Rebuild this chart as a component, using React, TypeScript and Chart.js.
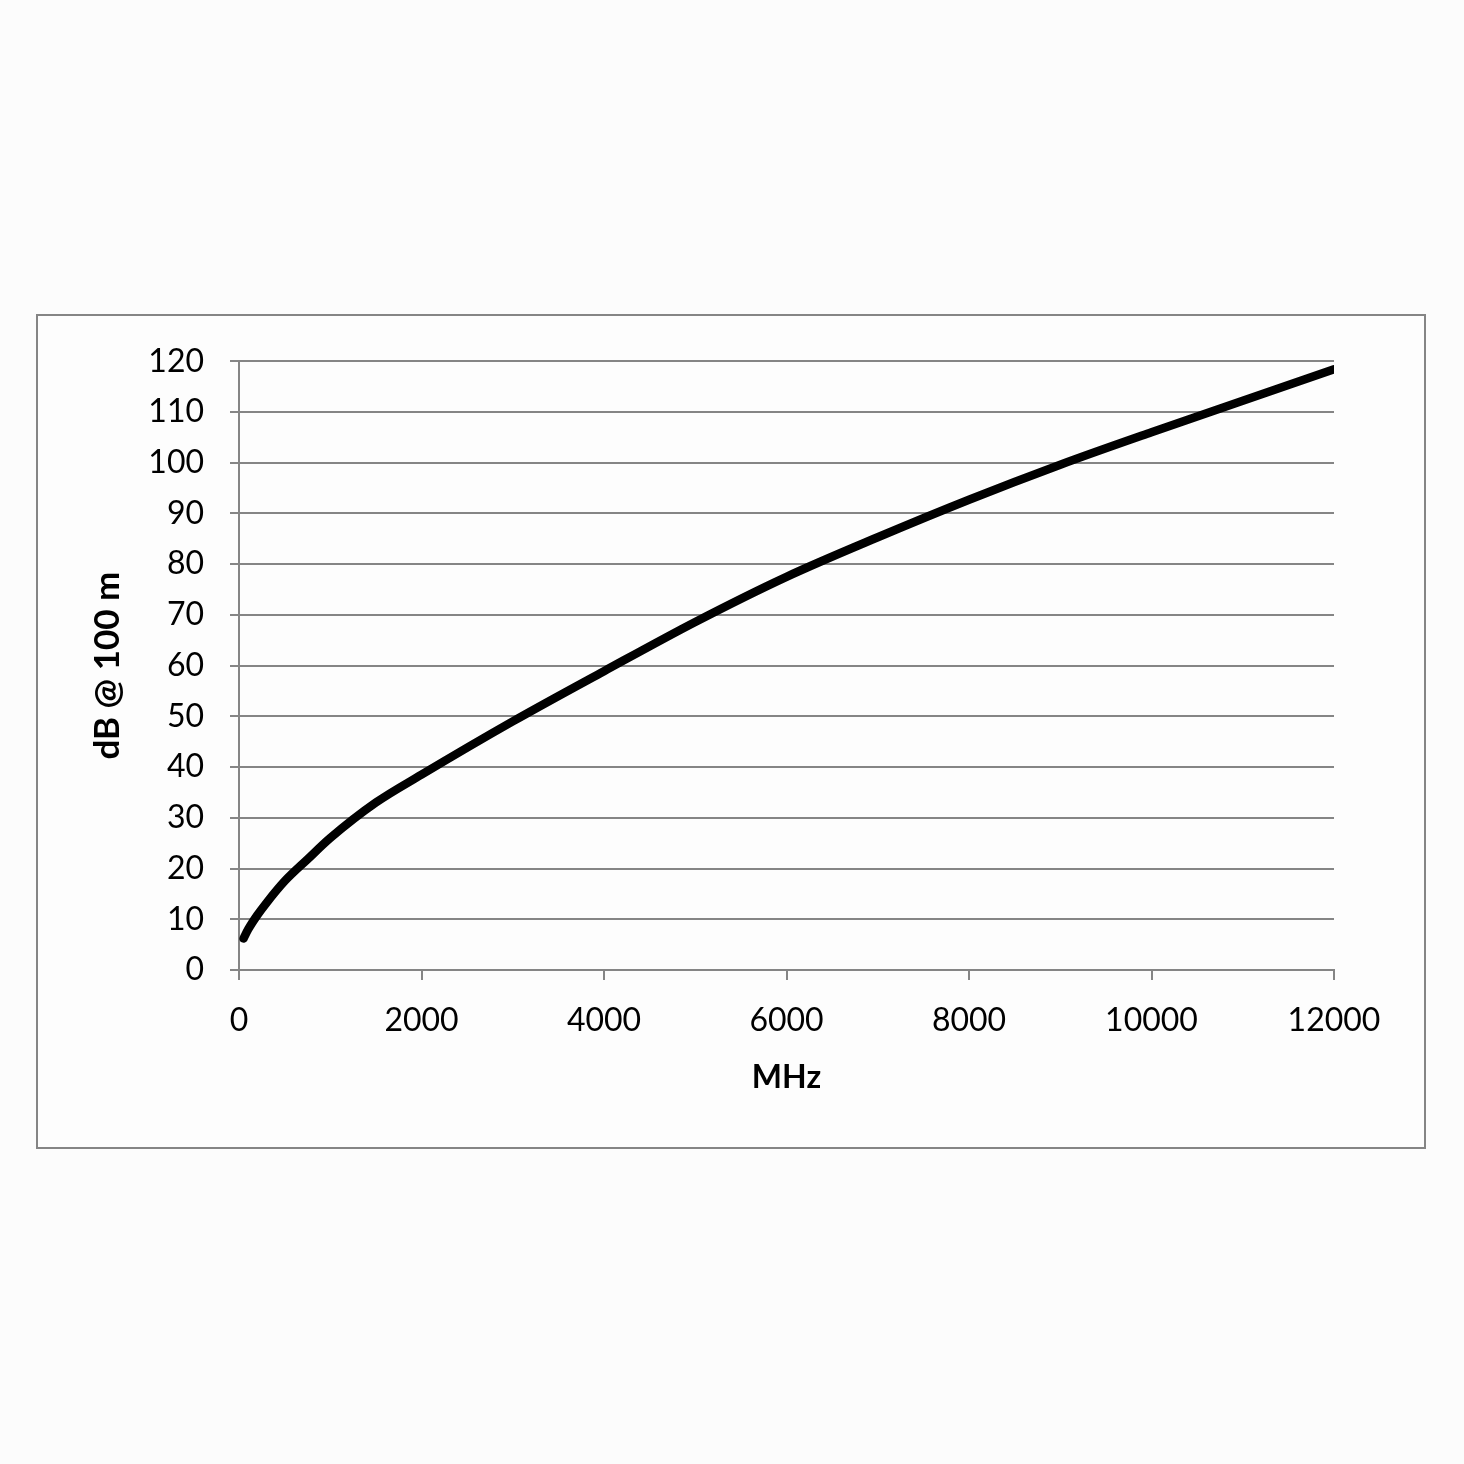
import React, { useEffect, useRef } from "react";
import { Chart, registerables } from "chart.js";

Chart.register(...registerables);

const frequencyMHz = [50, 100, 200, 300, 500, 750, 1000, 1500, 2000, 3000, 4000, 5000, 6000, 7000, 8000, 9000, 10000, 11000, 12000];
const attenuationDb = [6.2, 8.0, 10.8, 13.2, 17.5, 21.8, 26.0, 33.0, 38.5, 49.0, 58.9, 68.6, 77.5, 85.3, 92.7, 99.6, 106.0, 112.2, 118.4];
const xTickStep = 2000;
const yTickStep = 10;
const xTitle = "MHz";
const yTitle = "dB @ 100 m";

const FONT = "Lato, 'Open Sans', sans-serif";
const GRAY = "#858585";

export default function App() {
  const ref = useRef<HTMLCanvasElement | null>(null);

  useEffect(() => {
    if (!ref.current) return;
    const chart = new Chart(ref.current, {
      type: "line",
      data: {
        datasets: [
          {
            data: frequencyMHz.map((f, i) => ({ x: f, y: attenuationDb[i] })),
            borderColor: "#000000",
            borderWidth: 8.5,
            pointRadius: 0,
            cubicInterpolationMode: "monotone",
            borderCapStyle: "round",
            borderJoinStyle: "round",
            fill: false,
          },
        ],
      },
      options: {
        animation: false,
        responsive: false,
        maintainAspectRatio: false,
        devicePixelRatio: 1,
        layout: { padding: { left: 0, top: 41, right: 90, bottom: 27 } },
        plugins: { legend: { display: false }, tooltip: { enabled: false } },
        scales: {
          x: {
            type: "linear",
            min: 0,
            max: 12000,
            afterFit: (s: any) => {
              s.height = 150;
            },
            ticks: {
              stepSize: xTickStep,
              color: "#000",
              padding: 21,
              maxRotation: 0,
              font: { family: FONT, size: 32 },
              callback: (v: any) => String(v),
            },
            grid: {
              drawOnChartArea: false,
              drawTicks: true,
              tickLength: 10,
              color: GRAY,
              lineWidth: 2,
            },
            border: { display: true, color: GRAY, width: 2 },
            title: {
              display: true,
              text: xTitle,
              color: "#000",
              font: { family: FONT, size: 32, weight: "bold" },
              padding: { top: 0, bottom: 23 },
            },
          },
          y: {
            type: "linear",
            min: 0,
            max: 120,
            afterFit: (s: any) => {
              s.width = 201;
            },
            ticks: {
              stepSize: yTickStep,
              color: "#000",
              padding: 26,
              font: { family: FONT, size: 32 },
            },
            grid: {
              drawOnChartArea: true,
              drawTicks: true,
              tickLength: 9,
              color: GRAY,
              lineWidth: 2,
            },
            border: { display: true, color: GRAY, width: 2 },
            title: {
              display: true,
              text: yTitle,
              color: "#000",
              font: { family: FONT, size: 35, weight: "bold" },
              padding: { top: 49, bottom: 0 },
            },
          },
        },
      },
    });
    return () => chart.destroy();
  }, []);

  return (
    <div
      style={{
        position: "absolute",
        left: 0,
        top: 0,
        width: 1464,
        height: 1464,
        background: "#fcfcfc",
      }}
    >
      <div
        style={{
          position: "absolute",
          left: 36,
          top: 314,
          width: 1390,
          height: 835,
          border: `2px solid ${GRAY}`,
          boxSizing: "border-box",
          background: "#fdfdfd",
        }}
      >
        <canvas ref={ref} width={1386} height={831} style={{ display: "block", width: 1386, height: 831 }} />
      </div>
    </div>
  );
}
